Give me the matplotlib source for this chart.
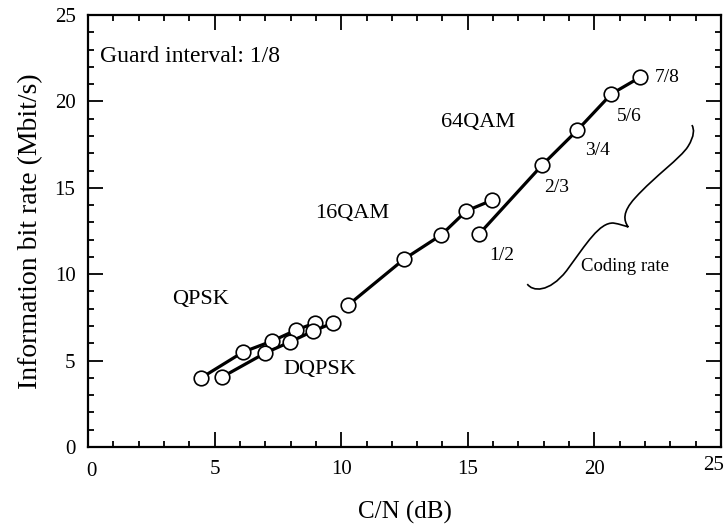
import matplotlib
matplotlib.use("Agg")
import matplotlib.pyplot as plt
from matplotlib.path import Path
from matplotlib.patches import PathPatch
from matplotlib.transforms import ScaledTranslation

plt.rcParams['font.family'] = ['Liberation Serif', 'DejaVu Serif']

# Data (C/N in dB, information bit rate in Mbit/s)
qpsk_cn = [4.47, 6.13, 7.27, 8.22, 8.97]
qpsk_rate = [4.0, 5.5, 6.13, 6.77, 7.18]
dqpsk_cn = [5.30, 7.00, 7.98, 8.89, 9.68]
dqpsk_rate = [4.05, 5.44, 6.08, 6.71, 7.18]
qam16_cn = [10.28, 12.49, 13.95, 14.94, 15.97]
qam16_rate = [8.22, 10.88, 12.27, 13.66, 14.29]
qam64_cn = [15.45, 17.94, 19.33, 20.67, 21.82]
qam64_rate = [12.33, 16.32, 18.34, 20.43, 21.41]

coding_rates = ["1/2", "2/3", "3/4", "5/6", "7/8"]
modulations = ["QPSK", "DQPSK", "16QAM", "64QAM"]
x_ticks = [0, 5, 10, 15, 20, 25]
y_ticks = [0, 5, 10, 15, 20, 25]

fig = plt.figure(figsize=(7.26, 5.29), dpi=100)
ax = fig.add_axes([88/726, 1-447/529, (721-88)/726, (447-15)/529])

line_kw = dict(color='black', lw=2.3, marker='o', ms=10.5, mfc='white',
               mec='black', mew=1.2, solid_capstyle='round')
for xs, ys in [(qpsk_cn, qpsk_rate), (dqpsk_cn, dqpsk_rate),
               (qam16_cn, qam16_rate), (qam64_cn, qam64_rate)]:
    ax.plot(xs, ys, **line_kw)

ax.set_xlim(0, 25)
ax.set_ylim(0, 25)
ax.set_xticks(x_ticks)
ax.set_yticks(y_ticks)
ax.set_xticks(range(0, 26), minor=True)
ax.set_yticks(range(0, 26), minor=True)
ax.tick_params(which='both', direction='in', top=True, right=True,
               width=1.3, labelsize=15)
ax.tick_params(which='major', length=11, pad=9)
ax.tick_params(which='minor', length=4.5)
for s in ax.spines.values():
    s.set_linewidth(1.6)

# keep the last x tick label inside the figure, slightly raised as in the reference
xl = ax.get_xticklabels()
xl[-1].set_horizontalalignment('right')
xl[-1].set_transform(xl[-1].get_transform() + ScaledTranslation(3/100, 4/100, fig.dpi_scale_trans))
xl[0].set_transform(xl[0].get_transform() + ScaledTranslation(3/100, -2/100, fig.dpi_scale_trans))

ax.set_xlabel("C/N (dB)", fontsize=18, labelpad=15)
ax.set_ylabel("Information bit rate (Mbit/s)", fontsize=20, labelpad=8)

# Annotations
ax.text(0.47, 22.6, "Guard interval: 1/8", fontsize=17, ha='left', va='center')
mod_pos = [(4.43, 8.56), (9.17, 4.46), (10.43, 13.54), (15.42, 18.8)]
for name, (tx, ty) in zip(modulations, mod_pos):
    ax.text(tx, ty, name, fontsize=16, ha='center', va='center')

cr_pos = [(16.36, 11.1), (18.5, 15.0), (20.12, 17.13), (21.38, 19.1)]
for lab, (tx, ty) in zip(coding_rates[:4], cr_pos):
    ax.text(tx, ty, lab, fontsize=14, ha='center', va='center')
ax.text(22.4, 21.4, coding_rates[4], fontsize=14, ha='left', va='center')
ax.text(21.19, 10.47, "Coding rate", fontsize=13.5, ha='center', va='center')

# Curly brace
verts = [(17.35, 9.43),
         (17.55, 9.0), (18.2, 8.9), (18.9, 10.2),
         (19.7, 11.8), (20.2, 13.0), (20.75, 12.96),
         (21.0, 12.9), (21.2, 12.8), (21.34, 12.73),
         (21.15, 13.1), (21.1, 13.6), (21.6, 14.4),
         (22.4, 15.7), (23.4, 16.7), (23.7, 17.4),
         (23.95, 18.0), (23.95, 18.4), (23.85, 18.63)]
codes = [Path.MOVETO] + [Path.CURVE4] * 18
ax.add_patch(PathPatch(Path(verts, codes), fill=False, lw=1.2, color='black'))

fig.savefig("out.png", dpi=100)
